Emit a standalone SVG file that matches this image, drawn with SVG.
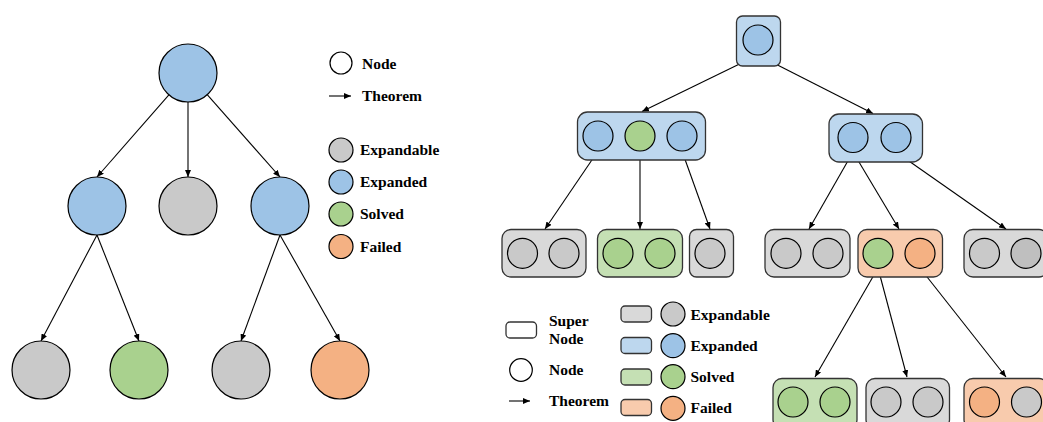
<svg xmlns="http://www.w3.org/2000/svg" width="1043" height="422" viewBox="0 0 1043 422">
<style>
.t{font-family:"Liberation Serif","Times New Roman",serif;font-weight:bold;font-size:15.5px;fill:#000}
.c{stroke:#000;stroke-width:1.2}
.b{stroke:#333;stroke-width:1.3}
.e{stroke:#000;stroke-width:1.1;fill:none}
.gc{fill:#C9C9C9}.bc{fill:#9DC3E6}.vc{fill:#A9D18E}.oc{fill:#F4B183}.wc{fill:#fff}
.gb{fill:#D9D9D9}.bb{fill:#BDD7EE}.vb{fill:#C5E0B4}.ob{fill:#F8CBAD}
</style>
<defs>
<marker id="ah" markerUnits="userSpaceOnUse" markerWidth="7" markerHeight="6" refX="7" refY="3" orient="auto">
<path d="M0,0 L7,3 L0,6 z" fill="#000"/>
</marker>
</defs>
<rect width="1043" height="422" fill="#fff"/>

<!-- connectors -->
<g id="connectors" class="e" marker-end="url(#ah)">
<line x1="168.9" y1="94.8" x2="97" y2="177"/>
<line x1="188" y1="102" x2="188" y2="177"/>
<line x1="207.2" y1="94.7" x2="280" y2="177"/>
<line x1="97" y1="235" x2="41" y2="341"/>
<line x1="97" y1="235" x2="139" y2="341"/>
<line x1="280" y1="235" x2="241" y2="341"/>
<line x1="280" y1="235" x2="340" y2="341"/>
<line x1="758" y1="55" x2="642" y2="111.5"/>
<line x1="758" y1="55" x2="873" y2="113.5"/>
<line x1="598" y1="151" x2="545" y2="229"/>
<line x1="640" y1="151" x2="640" y2="229"/>
<line x1="682" y1="151" x2="710" y2="229"/>
<line x1="853" y1="152" x2="809" y2="229"/>
<line x1="853" y1="152" x2="899" y2="229"/>
<line x1="896" y1="152" x2="1006" y2="229"/>
<line x1="878" y1="268" x2="815" y2="377"/>
<line x1="878" y1="268" x2="907" y2="377"/>
<line x1="920" y1="268" x2="1006" y2="377"/>
</g>

<!-- left tree -->
<g id="n_root"><circle class="c bc" cx="188" cy="73" r="29"/></g>
<g id="n_l"><circle class="c bc" cx="97" cy="206" r="29"/></g>
<g id="n_m"><circle class="c gc" cx="188" cy="206" r="29"/></g>
<g id="n_r"><circle class="c bc" cx="280" cy="206" r="29"/></g>
<g id="n_ll"><circle class="c gc" cx="41" cy="370" r="29"/></g>
<g id="n_lr"><circle class="c vc" cx="139" cy="370" r="29"/></g>
<g id="n_rl"><circle class="c gc" cx="241" cy="370" r="29"/></g>
<g id="n_rr"><circle class="c oc" cx="340" cy="370" r="29"/></g>

<!-- left legend -->
<g id="legend_left">
<circle class="c wc" cx="341" cy="63" r="11"/>
<text class="t" x="362" y="68.5">Node</text>
<line class="e" x1="329" y1="96" x2="351" y2="96" marker-end="url(#ah)"/>
<text class="t" x="362" y="101">Theorem</text>
<circle class="c gc" cx="341" cy="150" r="12"/>
<text class="t" x="360" y="155">Expandable</text>
<circle class="c bc" cx="341" cy="182" r="12"/>
<text class="t" x="360" y="187">Expanded</text>
<circle class="c vc" cx="341" cy="214" r="12"/>
<text class="t" x="360" y="219">Solved</text>
<circle class="c oc" cx="341" cy="246.5" r="12"/>
<text class="t" x="360" y="251.5">Failed</text>
</g>

<!-- right tree -->
<g id="s_root"><rect class="b bb" x="736.5" y="16" width="44" height="50" rx="6"/><circle class="c bc" cx="758" cy="40" r="15"/></g>
<g id="s_l"><rect class="b bb" x="577.5" y="112" width="128" height="48" rx="10"/>
<circle class="c bc" cx="598" cy="136" r="15"/><circle class="c vc" cx="640" cy="136" r="15"/><circle class="c bc" cx="682" cy="136" r="15"/></g>
<g id="s_r"><rect class="b bb" x="829" y="114" width="93.5" height="48" rx="10"/>
<circle class="c bc" cx="853" cy="137.5" r="15"/><circle class="c bc" cx="896" cy="137.5" r="15"/></g>

<g id="s_a"><rect class="b gb" x="502" y="229.5" width="84" height="47.5" rx="9"/>
<circle class="c gc" cx="522.5" cy="253.3" r="15"/><circle class="c gc" cx="564" cy="253.3" r="15"/></g>
<g id="s_b"><rect class="b vb" x="597.5" y="229.5" width="85" height="47.5" rx="9"/>
<circle class="c vc" cx="618" cy="253.3" r="15"/><circle class="c vc" cx="660" cy="253.3" r="15"/></g>
<g id="s_c"><rect class="b gb" x="689.5" y="229.5" width="44" height="47.5" rx="7"/>
<circle class="c gc" cx="710" cy="253.3" r="15"/></g>
<g id="s_d"><rect class="b gb" x="765" y="229.5" width="85" height="47.5" rx="9"/>
<circle class="c gc" cx="786" cy="253.3" r="15"/><circle class="c gc" cx="828" cy="253.3" r="15"/></g>
<g id="s_e"><rect class="b ob" x="858" y="229.5" width="84.5" height="47.5" rx="9"/>
<circle class="c vc" cx="878" cy="253.3" r="15"/><circle class="c oc" cx="920" cy="253.3" r="15"/></g>
<g id="s_f"><rect class="b gb" x="964" y="229.5" width="84" height="47.5" rx="9"/>
<circle class="c gc" cx="984.5" cy="253.3" r="15"/><circle class="c" fill="#BFBFBF" cx="1026" cy="253.3" r="15"/></g>

<g id="s_g"><rect class="b vb" x="773" y="378.5" width="84" height="50" rx="9"/>
<circle class="c vc" cx="793" cy="402" r="15"/><circle class="c vc" cx="835" cy="402" r="15"/></g>
<g id="s_h"><rect class="b gb" x="866" y="378.5" width="83.5" height="50" rx="9"/>
<circle class="c gc" cx="886" cy="402" r="15"/><circle class="c gc" cx="928" cy="402" r="15"/></g>
<g id="s_i"><rect class="b ob" x="964" y="378.5" width="84" height="50" rx="9"/>
<circle class="c oc" cx="984.5" cy="402" r="15"/><circle class="c gc" cx="1026.5" cy="402" r="15"/></g>

<!-- right legend -->
<g id="legend_right">
<rect class="b wc" x="506" y="322" width="30.5" height="16" rx="4"/>
<text class="t" x="549" y="325.5">Super</text>
<text class="t" x="549" y="343.5">Node</text>
<circle class="c wc" cx="521" cy="370" r="11.3"/>
<text class="t" x="549" y="375">Node</text>
<line class="e" x1="509" y1="401" x2="530" y2="401" marker-end="url(#ah)"/>
<text class="t" x="549" y="405.5">Theorem</text>
<rect class="b gb" x="621" y="306" width="30.5" height="16" rx="4"/>
<circle class="c gc" cx="673" cy="314" r="12"/>
<text class="t" x="690.5" y="320">Expandable</text>
<rect class="b bb" x="621" y="337.5" width="30.5" height="16" rx="4"/>
<circle class="c bc" cx="673" cy="345.7" r="12"/>
<text class="t" x="690.5" y="351">Expanded</text>
<rect class="b vb" x="621" y="369" width="30.5" height="16" rx="4"/>
<circle class="c vc" cx="673" cy="376.7" r="12"/>
<text class="t" x="690.5" y="382">Solved</text>
<rect class="b ob" x="621" y="399.5" width="30.5" height="16" rx="4"/>
<circle class="c oc" cx="673" cy="408.3" r="12"/>
<text class="t" x="690.5" y="413">Failed</text>
</g>
</svg>
